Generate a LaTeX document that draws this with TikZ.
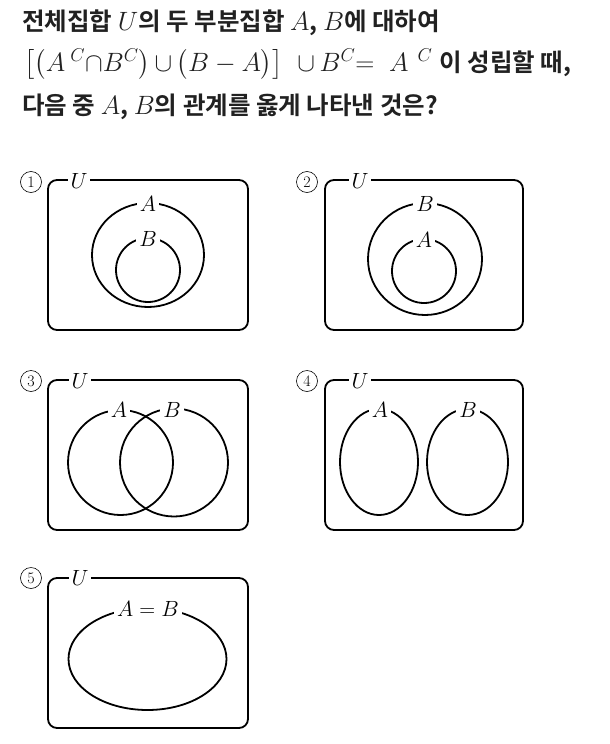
\RequirePackage{fix-cm}
\documentclass[tikz,border=0pt]{standalone}
\usepackage{amsmath}
\usepackage{fontspec}
\newfontfamily\krfont{Noto Sans CJK KR Bold}
\definecolor{TextClr}{rgb}{0.13,0.13,0.13}
\newcommand\tmath[1]{{\fontsize{26.5}{26.5}\selectfont$#1$}}

\tikzset{
  setline/.style={line width=1.8pt},
  setbox/.style={setline,rounded corners=9pt},
  setlabel/.style={fill=white,inner sep=3pt,font=\fontsize{22}{22}\selectfont},
  numlabel/.style={circle,draw,line width=0.6pt,minimum size=21pt,inner sep=0pt,font=\fontsize{16}{16}\selectfont},
  titleline/.style={anchor=base west,inner sep=0pt,text=TextClr,font=\krfont\fontsize{24.5}{24.5}\selectfont}
}

\begin{document}
\begin{tikzpicture}[x=1pt,y=-1pt]
\useasboundingbox (0,0) rectangle (610,744);

\node[titleline] (line1) at (22,30) {전체집합 \tmath{U}의 두 부분집합 \tmath{A}, \tmath{B}에 대하여};
\node[titleline] (line2) at (24,71) {\tmath{\bigl[\bigl(A^{\hskip5pt C}{\cap}B^{C}\bigr)\,{\cup}\,\bigl(B-A\bigr)\bigr]\;\;{\cup}\,B^{C}{=}\;\;A^{\hskip9pt C}}\hspace{7pt}이 성립할 때,};
\node[titleline] (line3) at (22,114) {다음 중 \tmath{A}, \tmath{B}의 관계를 옳게 나타낸 것은?};

% (1)
\draw[setbox] (48,180) rectangle (248,330);
\node[numlabel] (n1) at (31,182) {1};
\draw[setline] (148,255) ellipse [x radius=56,y radius=52];
\draw[setline] (148,270) circle [radius=32];
\node[setlabel] (u1) at (79,181) {$U$};
\node[setlabel] (a1) at (148,204) {$A$};
\node[setlabel] (b1) at (148,239) {$B$};

% (2)
\draw[setbox] (325,180) rectangle (523,330);
\node[numlabel] (n2) at (307,182) {2};
\draw[setline] (425,259) ellipse [x radius=57,y radius=56];
\draw[setline] (424,271) circle [radius=32];
\node[setlabel] (u2) at (360,181) {$U$};
\node[setlabel] (b2) at (425,204) {$B$};
\node[setlabel] (a2) at (424,240) {$A$};

% (3)
\draw[setbox] (48,380) rectangle (248,530);
\node[numlabel] (n3) at (31,381) {3};
\draw[setline] (120.5,462.5) circle [radius=52.5];
\draw[setline] (174,462.5) circle [radius=54];
\node[setlabel] (u3) at (80,381) {$U$};
\node[setlabel] (a3) at (119,410) {$A$};
\node[setlabel] (b3) at (172,410) {$B$};

% (4)
\draw[setbox] (325,380) rectangle (523,530);
\node[numlabel] (n4) at (307,381) {4};
\draw[setline] (379,462) ellipse [x radius=39,y radius=53];
\draw[setline] (467.5,462) ellipse [x radius=40.5,y radius=53];
\node[setlabel] (u4) at (360,381) {$U$};
\node[setlabel] (a4) at (380,410) {$A$};
\node[setlabel] (b4) at (468,410) {$B$};

% (5)
\draw[setbox] (48,578) rectangle (248,728);
\node[numlabel] (n5) at (31,578) {5};
\draw[setline] (147.5,659) ellipse [x radius=79,y radius=51];
\node[setlabel] (u5) at (80,578) {$U$};
\node[setlabel] (ab5) at (148,609) {$A=B$};

\end{tikzpicture}
\end{document}
